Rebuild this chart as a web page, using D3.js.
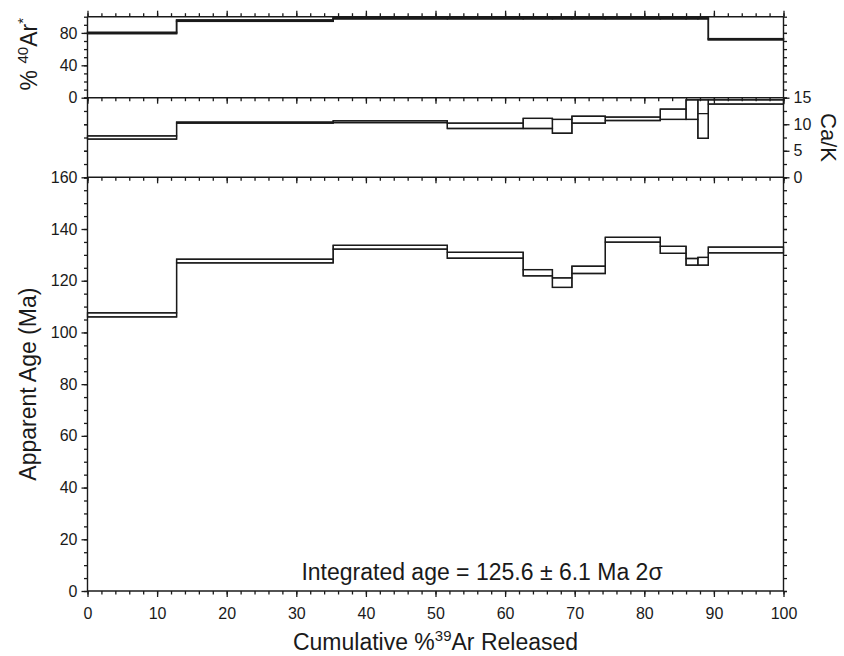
<!DOCTYPE html>
<html>
<head>
<meta charset="utf-8">
<script src="https://cdn.jsdelivr.net/npm/d3@7/dist/d3.min.js"></script>
<style>
    html, body { margin: 0; padding: 0; background: #fff; }
    svg { display: block; font-family: "Liberation Sans", Arial, Helvetica, sans-serif; }
</style>
</head>
<body>
<svg id="chart" width="844" height="656"></svg>
<script>
// 步进边界（累计 %39Ar）
let stepEdges = [0, 12.8, 35.3, 51.7, 62.6, 66.8, 69.6, 74.4, 82.3, 86.0, 87.7, 89.2, 100];

// 表观年龄 (Ma)，上下 2σ
let ageLo = [106.0, 126.9, 132.2, 128.7, 121.9, 117.4, 122.8, 134.9, 130.6, 126.0, 126.0, 130.8];
let ageHi = [107.6, 128.3, 133.7, 131.0, 124.3, 121.1, 125.6, 136.8, 133.3, 128.6, 129.0, 133.0];

// %40Ar*
let arLo = [79.2, 94.3, 97.4, 97.4, 97.4, 97.4, 97.4, 97.4, 97.4, 97.4, 97.4, 71.6];
let arHi = [80.6, 95.8, 98.6, 98.6, 98.6, 98.6, 98.6, 98.6, 98.6, 98.6, 98.6, 72.9];

// Ca/K
let caLo = [7.2, 10.2, 10.3, 9.2, 9.2, 8.3, 10.2, 10.7, 10.9, 10.9, 7.35, 13.8];
let caHi = [7.8, 10.4, 10.65, 10.2, 11.1, 10.9, 11.5, 11.35, 12.85, 14.6, 14.6, 14.6];
let caMid = [null, null, null, null, null, null, null, null, null, null, 12.0, null];

// 刻度
let xMajor = d3.range(0, 101, 10);
let xMinor = d3.range(0, 101, 2);
let arLabels = [0, 40, 80];
let arMinor = d3.range(0, 101, 10);
let caLabels = [0, 5, 10, 15];
let caMinor = d3.range(0, 15.1, 2.5);
let ageLabels = d3.range(0, 161, 20);
let ageMinor = d3.range(0, 161, 5);

let svg = d3.select("#chart");
let ink = "#1a1a1a";

// 比例尺
let x = d3.scaleLinear().domain([0, 100]).range([87.5, 783.5]);
let yAr = d3.scaleLinear().domain([0, 100]).range([97.7, 16.7]);
let yCa = d3.scaleLinear().domain([0, 15]).range([177.3, 97.7]);
let yAge = d3.scaleLinear().domain([0, 160]).range([591, 177.3]);

/**
 * 画一组刻度（长刻度带标签 + 短刻度）
 */
function drawTicks(scale, axisFn, translate, major, minor, labels, majorLen, minorLen, dy) {
    let gMinor = svg.append("g")
        .attr("transform", translate)
        .call(axisFn(scale).tickValues(minor).tickSize(minorLen).tickFormat(""));
    let gMajor = svg.append("g")
        .attr("transform", translate)
        .call(axisFn(scale).tickValues(major).tickSize(majorLen).tickPadding(4)
            .tickFormat(labels ? d3.format("d") : ""));
    [gMinor, gMajor].forEach(g => {
        g.select(".domain").remove();
        g.selectAll("line").attr("stroke", ink).attr("stroke-width", 1.3);
        g.selectAll("text").attr("fill", ink).style("font-size", "16px").attr("font-family", null);
    });
    if (dy) {
        gMajor.selectAll("text").attr("dy", dy);
    }
}

/**
 * 画步进方框 + 连接的阶梯线
 */
function drawSteps(y, lo, hi, width) {
    let g = svg.append("g");

    g.selectAll("rect")
        .data(lo)
        .enter()
        .append("rect")
        .attr("x", (d, i) => x(stepEdges[i]))
        .attr("width", (d, i) => x(stepEdges[i + 1]) - x(stepEdges[i]))
        .attr("y", (d, i) => y(hi[i]))
        .attr("height", (d, i) => y(lo[i]) - y(hi[i]))
        .attr("fill", "none")
        .attr("stroke", ink)
        .attr("stroke-width", width);

    let stair = d3.line()
        .x(d => x(d[0]))
        .y(d => y(d[1]))
        .curve(d3.curveStepAfter);

    [lo, hi].forEach(vals => {
        let pts = vals.map((v, i) => [stepEdges[i], v]);
        pts.push([100, vals[vals.length - 1]]);
        g.append("path")
            .attr("d", stair(pts))
            .attr("fill", "none")
            .attr("stroke", ink)
            .attr("stroke-width", width);
    });
}

drawSteps(yAr, arLo, arHi, 1.5);
drawSteps(yCa, caLo, caHi, 1.3);
drawSteps(yAge, ageLo, ageHi, 1.3);

// Ca/K 中线
svg.append("g").selectAll("line")
    .data(caMid.map((d, i) => [d, i]).filter(d => d[0] !== null))
    .enter()
    .append("line")
    .attr("x1", d => x(stepEdges[d[1]]))
    .attr("x2", d => x(stepEdges[d[1] + 1]))
    .attr("y1", d => yCa(d[0]))
    .attr("y2", d => yCa(d[0]))
    .attr("stroke", ink)
    .attr("stroke-width", 1.3);

// 框线
[yAr.range()[1], yAr.range()[0], yCa.range()[0], yAge.range()[0]].forEach(yy => {
    svg.append("line").attr("x1", x(0)).attr("x2", x(100)).attr("y1", yy).attr("y2", yy)
        .attr("stroke", ink).attr("stroke-width", 1.4);
});
[x(0), x(100)].forEach(xx => {
    svg.append("line").attr("x1", xx).attr("x2", xx).attr("y1", yAr.range()[1]).attr("y2", yAge.range()[0])
        .attr("stroke", ink).attr("stroke-width", 1.4);
});

// 横轴刻度：顶部向上，中间向下，底部向下并带标签
drawTicks(x, d3.axisTop, `translate(0,${yAr(100)})`, xMajor, xMinor, false, 6, 3.5);
drawTicks(x, d3.axisBottom, `translate(0,${yAr(0)})`, xMajor, xMinor, false, 6, 3.5);
drawTicks(x, d3.axisBottom, `translate(0,${yAge(160)})`, xMajor, xMinor, false, 6, 3.5);
drawTicks(x, d3.axisBottom, `translate(0,${yAge(0)})`, xMajor, xMinor, true, 6, 3.5, "1.1em");

// 纵轴刻度
drawTicks(yAr, d3.axisLeft, `translate(${x(0)},0)`, arLabels, arMinor, true, 6, 3.5);
drawTicks(yAr, d3.axisRight, `translate(${x(100)},0)`, arLabels, arMinor, false, 3.5, 3.5);
drawTicks(yCa, d3.axisLeft, `translate(${x(0)},0)`, caLabels, caMinor, false, 3.5, 3.5);
drawTicks(yCa, d3.axisRight, `translate(${x(100)},0)`, caLabels, caMinor, true, 6, 3.5);
drawTicks(yAge, d3.axisLeft, `translate(${x(0)},0)`, ageLabels, ageMinor, true, 6, 3.5);
drawTicks(yAge, d3.axisRight, `translate(${x(100)},0)`, ageLabels, ageMinor, false, 3.5, 3.5);

// 轴标题
let xTitle = svg.append("text")
    .attr("x", (x(0) + x(100)) / 2)
    .attr("y", 650)
    .attr("text-anchor", "middle")
    .attr("fill", ink)
    .style("font-size", "23px");
xTitle.append("tspan").text("Cumulative %");
xTitle.append("tspan").attr("dy", -9).style("font-size", "15px").text("39");
xTitle.append("tspan").attr("dy", 9).text("Ar Released");

svg.append("text")
    .attr("transform", `translate(36,${(yAge(0) + yAge(160)) / 2}) rotate(-90)`)
    .attr("text-anchor", "middle")
    .attr("fill", ink)
    .style("font-size", "23px")
    .text("Apparent Age (Ma)");

let arTitle = svg.append("text")
    .attr("transform", `translate(37,${(yAr(0) + yAr(100)) / 2 - 3}) rotate(-90)`)
    .attr("text-anchor", "middle")
    .attr("fill", ink)
    .style("font-size", "23px");
arTitle.append("tspan").text("% ");
arTitle.append("tspan").attr("dy", -9).style("font-size", "15px").text("40");
arTitle.append("tspan").attr("dy", 9).text("Ar");
arTitle.append("tspan").attr("dy", -9).style("font-size", "15px").text("*");

svg.append("text")
    .attr("transform", `translate(821,${(yCa(0) + yCa(15)) / 2}) rotate(90)`)
    .attr("text-anchor", "middle")
    .attr("fill", ink)
    .style("font-size", "22px")
    .text("Ca/K");

// 积分年龄
svg.append("text")
    .attr("x", 482)
    .attr("y", 580)
    .attr("text-anchor", "middle")
    .attr("fill", ink)
    .style("font-size", "23px")
    .text("Integrated age = 125.6 \u00b1 6.1 Ma 2\u03c3");
</script>
</body>
</html>
